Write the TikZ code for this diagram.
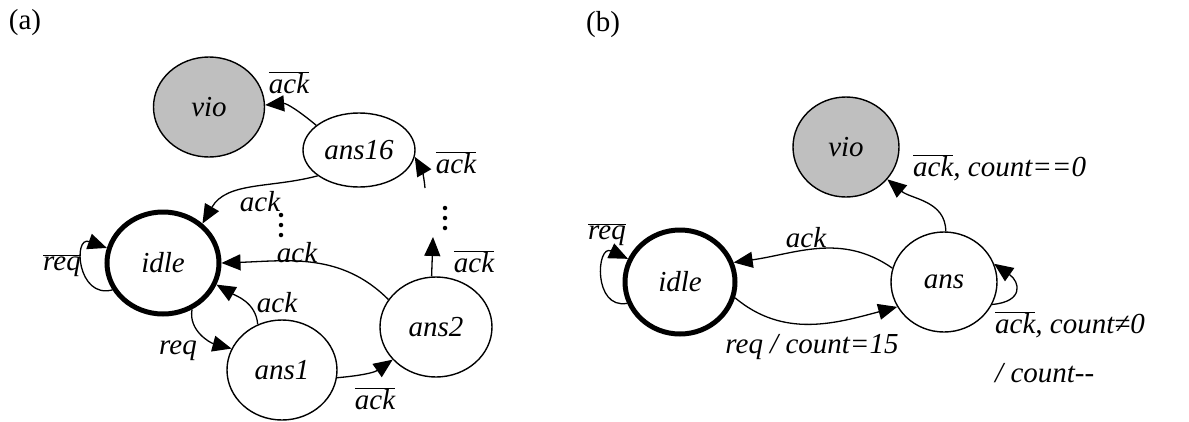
\documentclass[tikz,border=0pt]{standalone}
\usepackage{fontspec}
\setmainfont{Liberation Serif}[ItalicFont={Liberation Serif Italic}]
\usetikzlibrary{arrows.meta,shapes.geometric}

\newcommand{\barred}[1]{$\overline{\hbox{\itshape #1}}$}

\begin{document}
\begin{tikzpicture}[x=1pt,y=-1pt,
  font=\fontsize{29}{34}\selectfont,
  state/.style={draw,ellipse,line width=1.4pt,inner sep=0pt,font=\fontsize{29}{34}\selectfont\itshape},
  initial/.style={state,line width=5pt},
  bad/.style={state,fill=black!25},
  tr/.style={line width=1.3pt,-{Triangle[length=19pt,width=16pt]}},
  lbl/.style={inner sep=0pt,font=\fontsize{29}{34}\selectfont\itshape},
  vdot/.style={fill,circle,inner sep=0pt,minimum size=4.5pt}
]
\useasboundingbox (0,0) rectangle (1189,421);

% ---- (a) one state per remaining cycle ----
\node[lbl,font=\fontsize{29}{34}\selectfont] (la) at (25,23) {(a)};
\node[bad,minimum width=111pt,minimum height=100pt] (vioA) at (209,107) {vio};
\node[state,minimum width=112pt,minimum height=74pt] (ans16) at (359,150) {ans16};
\node[initial,minimum width=112pt,minimum height=102pt] (idleA) at (163,263) {idle};
\node[state,minimum width=110pt,minimum height=100pt] (ans1) at (282,370) {ans1};
\node[state,minimum width=112pt,minimum height=100pt] (ans2) at (436,327) {ans2};

\coordinate (upA) at (433,237);
\coordinate (fromA) at (425,188);

\draw[tr] (ans16.150) to[out=140,in=5] (vioA.2);
\draw[tr] (ans16.212) to[out=195,in=60] (idleA.45);
\draw[tr] (ans2.150) to[out=135,in=2] (idleA.0);
\draw[tr] (ans1.118) to[out=95,in=-30] (idleA.-22);
\draw[tr] (idleA.-58) to[out=-100,in=165] (ans1.157);
\draw[tr] (idleA.208) to[out=195,in=160,looseness=2.2] (idleA.165);
\draw[tr] (ans1.-8) to[out=5,in=215] (ans2.217);
\draw[tr] (ans2.95) -- (upA);
\draw[tr] (fromA) to[out=95,in=-60] (ans16.-7);

\node[lbl] (l1) at (289,83) {\barred{ack}};
\node[lbl] (l2) at (260,202) {ack};
\node[lbl] (l3) at (297,253) {ack};
\node[lbl] (l4) at (277,303) {ack};
\node[lbl] (l5) at (178,351) {req};
\node[lbl] (l6) at (62,266) {\barred{req}};
\node[lbl] (l7) at (375,399) {\barred{ack}};
\node[lbl] (l8) at (474,262) {\barred{ack}};
\node[lbl] (l9) at (456,163) {\barred{ack}};

\node[vdot] (d1) at (281,215) {};
\node[vdot] (d2) at (281,225) {};
\node[vdot] (d3) at (281,235) {};
\node[vdot] (d4) at (445,208) {};
\node[vdot] (d5) at (445,218) {};
\node[vdot] (d6) at (445,228) {};

% ---- (b) a single answer state with a counter ----
\node[lbl,font=\fontsize{29}{34}\selectfont] (lb) at (603,25) {(b)};
\node[bad,minimum width=106pt,minimum height=100pt] (vioB) at (846,147) {vio};
\node[initial,minimum width=110pt,minimum height=104pt] (idleB) at (680,282) {idle};
\node[state,minimum width=106pt,minimum height=100pt] (ans) at (944,282) {ans};

\draw[tr] (ans.88) to[out=90,in=-40] (vioB.-38);
\draw[tr] (ans.165) to[out=145,in=8] (idleB.20);
\draw[tr] (idleB.-16) to[out=-40,in=195] (ans.208);
\draw[tr] (ans.-25) to[out=5,in=-35,looseness=2] (ans.20);
\draw[tr] (idleB.202) to[out=190,in=155,looseness=2] (idleB.156);

\node[lbl,anchor=west] (m1) at (913,168) {\barred{ack}, count==0};
\node[lbl] (m2) at (806,238) {ack};
\node[lbl] (m3) at (812,347) {req / count=15};
\node[lbl,anchor=west] (m4) at (995,325) {\barred{ack}, count≠0};
\node[lbl,anchor=west] (m5) at (995,373) {/ count-{}-};
\node[lbl] (m6) at (607,235) {\barred{req}};
\end{tikzpicture}
\end{document}
